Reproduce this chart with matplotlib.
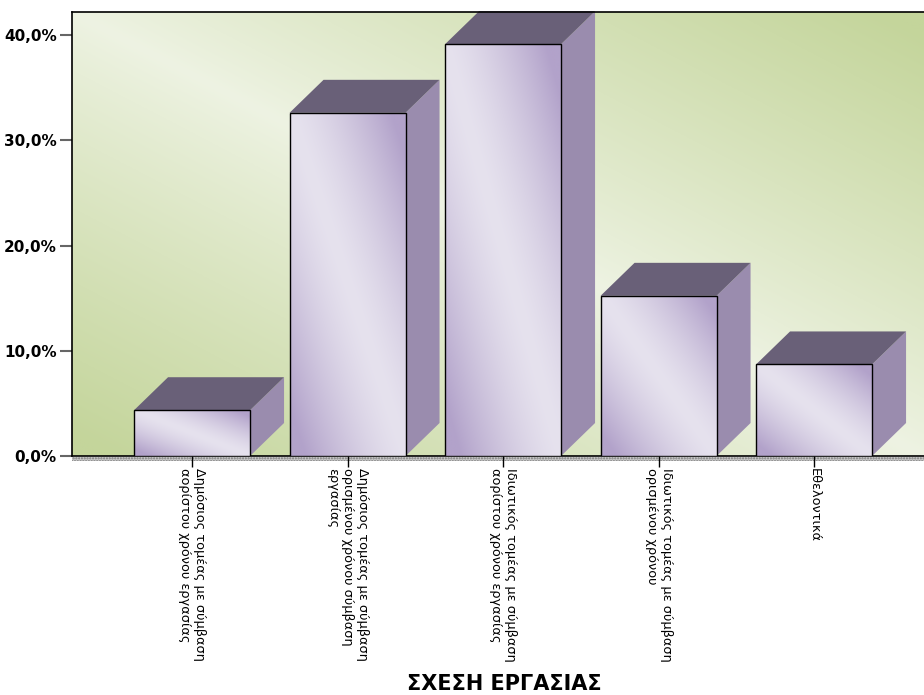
import numpy as np
import matplotlib.pyplot as plt
from matplotlib.patches import Polygon, Rectangle
from matplotlib.colors import to_rgb

categories = [
    "Δημόσιος τομέας με σύμβαση\nαορίστου χρόνου εργασίας",
    "Δημόσιος τομέας με σύμβαση\nορισμένου χρόνου σύμβαση\nεργασίας",
    "Ιδιωτικός τομέας με σύμβαση\nαορίστου χρόνου εργασίας",
    "Ιδιωτικός τομέας με σύμβαση\nορισμένου χρόνου",
    "Εθελοντικά",
]
percents = [4.35, 32.61, 39.13, 15.22, 8.70]
yticks = [0, 10, 20, 30, 40]
ytick_labels = ["0,0%", "10,0%", "20,0%", "30,0%", "40,0%"]
xlabel = "ΣΧΕΣΗ ΕΡΓΑΣΙΑΣ"

W, H = 924, 695
fig = plt.figure(figsize=(W / 100, H / 100), dpi=100)
ax = fig.add_axes([72 / W, 1 - 456 / H, (924 - 72) / W, 444 / H])

xmin, xmax = -0.772, 4.707
ymax = 42.19
ax.set_xlim(xmin, xmax)
ax.set_ylim(0, ymax)

# background: light band along the top-left / bottom-right diagonal
bg_light = np.array(to_rgb("#eef3e3"))
bg_dark = np.array(to_rgb("#c4d59b"))
u, v = np.meshgrid(np.linspace(0, 1, 400), np.linspace(1, 0, 300))
t = np.clip(np.abs(u + v - 1.0) * 1.05, 0, 1) ** 0.9
bg = bg_light + (bg_dark - bg_light) * t[..., None]
ax.imshow(bg, extent=[xmin, xmax, 0, ymax], aspect="auto", zorder=0)

width = 0.746
dx = 34 / 155.5
dy = 33 / (444 / ymax)

face_light = np.array(to_rgb("#e6e2ee"))
face_dark = np.array(to_rgb("#b2a2ca"))
side_col = "#9a8cae"
top_col = "#696078"

for i, p in enumerate(percents):
    x0, x1 = i - width / 2, i + width / 2
    side = Polygon([(x1, 0), (x1, p), (x1 + dx, p + dy), (x1 + dx, dy)],
                   closed=True, facecolor=side_col, edgecolor="none",
                   zorder=2, clip_on=False)
    top = Polygon([(x0, p), (x1, p), (x1 + dx, p + dy), (x0 + dx, p + dy)],
                  closed=True, facecolor=top_col, edgecolor="none",
                  zorder=2, clip_on=False)
    ax.add_patch(side)
    ax.add_patch(top)

    # front face with a reflected diagonal gradient
    fu, fv = np.meshgrid(np.linspace(0, 1, 120), np.linspace(1, 0, 240))
    ft = np.clip(np.abs(fu + fv - 1.0) * 1.15, 0, 1) ** 1.4
    img = face_light + (face_dark - face_light) * ft[..., None]
    front = Rectangle((x0, 0), width, p, facecolor="none",
                      edgecolor="black", linewidth=1.0, zorder=4)
    ax.add_patch(front)
    im = ax.imshow(img, extent=[x0, x1, 0, p], aspect="auto", zorder=3)
    im.set_clip_path(front)

# dotted floor strip under the plot
floor = Rectangle((0, -5 / 444), 1, 4 / 444, transform=ax.transAxes,
                  facecolor="#c8c8c8", edgecolor="#7a7a7a", hatch="......",
                  linewidth=0, clip_on=False, zorder=1)
ax.add_patch(floor)

for s in ["left", "top", "bottom"]:
    ax.spines[s].set_color("black")
    ax.spines[s].set_linewidth(1.2)
ax.spines["right"].set_visible(False)

ax.set_yticks(yticks)
ax.set_yticklabels(ytick_labels, fontsize=11, fontweight="bold",
                   family="DejaVu Sans")
ax.tick_params(axis="y", length=9, width=1.5, color="#666666", pad=2)

ax.set_xticks(range(len(categories)))
ax.set_xticklabels(categories, rotation=-90, ha="center", va="top",
                   multialignment="left", fontsize=9.3, linespacing=1.2,
                   fontweight="medium", family="DejaVu Sans")
ax.tick_params(axis="x", length=8, width=1, color="black", pad=1)

fig.text(504 / W, 1 - 684 / H, xlabel, ha="center", va="center",
         fontsize=15, fontweight="bold", family="DejaVu Sans")

fig.savefig("out.png", dpi=100)
